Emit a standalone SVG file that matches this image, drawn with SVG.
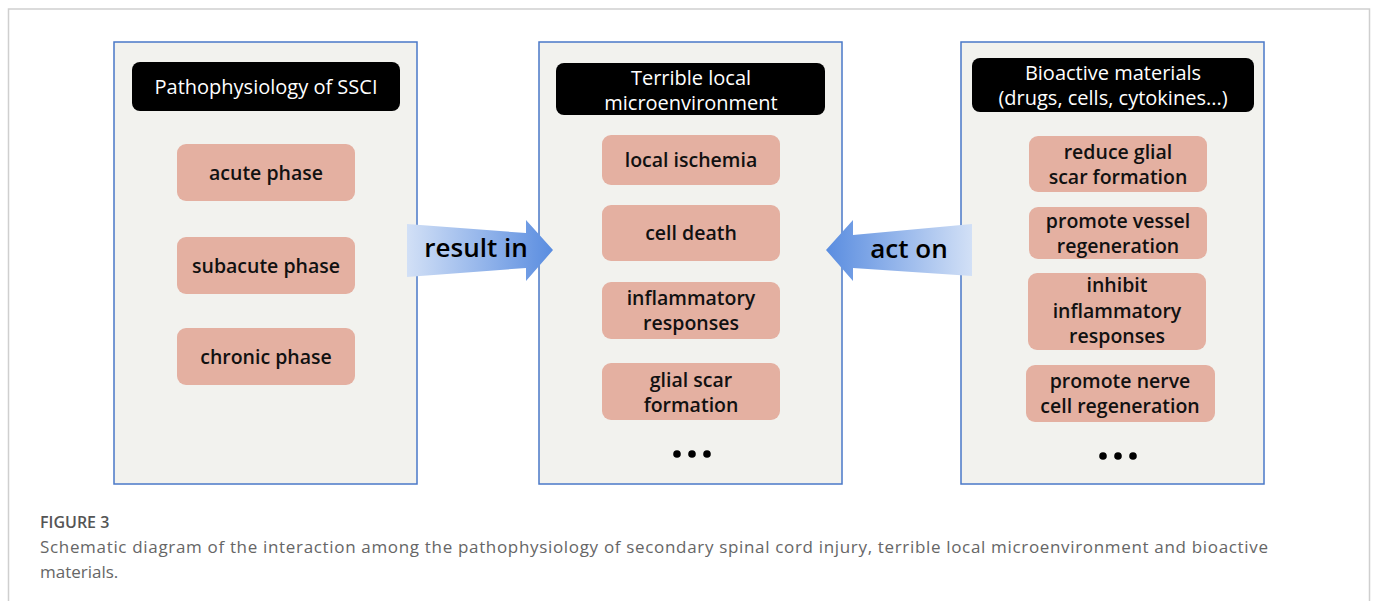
<svg xmlns="http://www.w3.org/2000/svg" width="1375" height="601" viewBox="0 0 1375 601">
<defs>
<style>
.frame{fill:#ffffff;stroke:#cfcfcf;stroke-width:1.5}
.panel{fill:#f2f2ee;stroke:#4a78c8;stroke-width:1.5}
.hdr{fill:#000000}
.box{fill:#e4b0a1}
.ht{font-family:"Open Sans","Noto Sans",sans-serif;font-size:20px;fill:#ffffff;text-anchor:middle}
.bt{font-family:"Open Sans","Noto Sans",sans-serif;font-size:19.5px;fill:#111111;text-anchor:middle;font-weight:600}
.at{font-family:"Open Sans","Noto Sans",sans-serif;font-size:26px;fill:#000000;text-anchor:middle;font-weight:600}
.cap1{font-family:"Open Sans",sans-serif;font-size:16px;fill:#555555;font-weight:600}
.cap2{font-family:"Open Sans",sans-serif;font-size:17px;fill:#666666;font-weight:400}
.dot{fill:#000000}
</style>
<linearGradient id="gR" x1="0" y1="0" x2="1" y2="0">
<stop offset="0" stop-color="#d2e0f6"/>
<stop offset="1" stop-color="#5a8de0"/>
</linearGradient>
<linearGradient id="gL" x1="1" y1="0" x2="0" y2="0">
<stop offset="0" stop-color="#d2e0f6"/>
<stop offset="1" stop-color="#5a8de0"/>
</linearGradient>
</defs>
<rect x="0" y="0" width="1375" height="601" fill="#ffffff"/>
<rect class="frame" x="8.5" y="9" width="1361" height="610"/>

<g id="panel-left">
<rect class="panel" x="114" y="42" width="303" height="442"/>
<rect class="hdr" x="132" y="62" width="268" height="49" rx="8"/>
<text class="ht" x="266" y="94">Pathophysiology of SSCI</text>
</g>
<g id="acute"><rect class="box" x="177" y="144" width="178" height="57" rx="9"/><text class="bt" x="266" y="180">acute phase</text></g>
<g id="subacute"><rect class="box" x="177" y="237" width="178" height="57" rx="9"/><text class="bt" x="266" y="273">subacute phase</text></g>
<g id="chronic"><rect class="box" x="177" y="328" width="178" height="57" rx="9"/><text class="bt" x="266" y="364">chronic phase</text></g>

<g id="panel-middle">
<rect class="panel" x="539" y="42" width="303" height="442"/>
<rect class="hdr" x="556" y="63" width="269" height="52" rx="8"/>
<text class="ht" x="691" y="85">Terrible local</text>
<text class="ht" x="691" y="110">microenvironment</text>
</g>
<g id="ischemia"><rect class="box" x="602" y="135" width="178" height="50" rx="9"/><text class="bt" x="691" y="167">local ischemia</text></g>
<g id="celldeath"><rect class="box" x="602" y="205" width="178" height="56" rx="9"/><text class="bt" x="691" y="240">cell death</text></g>
<g id="inflammatory"><rect class="box" x="602" y="282" width="178" height="57" rx="9"/><text class="bt" x="691" y="305">inflammatory</text><text class="bt" x="691" y="330">responses</text></g>
<g id="glialscar"><rect class="box" x="602" y="363" width="178" height="57" rx="9"/><text class="bt" x="691" y="387">glial scar</text><text class="bt" x="691" y="412">formation</text></g>
<g id="dots-middle"><circle class="dot" cx="677" cy="454" r="3.8"/><circle class="dot" cx="692" cy="454" r="3.8"/><circle class="dot" cx="707" cy="454" r="3.8"/></g>

<g id="panel-right">
<rect class="panel" x="961" y="42" width="303" height="442"/>
<rect class="hdr" x="972" y="58" width="282" height="54" rx="8"/>
<text class="ht" x="1113" y="80">Bioactive materials</text>
<text class="ht" x="1113" y="105">(drugs, cells, cytokines...)</text>
</g>
<g id="reduce"><rect class="box" x="1029" y="136" width="178" height="56" rx="9"/><text class="bt" x="1118" y="159">reduce glial</text><text class="bt" x="1118" y="184">scar formation</text></g>
<g id="vessel"><rect class="box" x="1029" y="207" width="178" height="52" rx="9"/><text class="bt" x="1118" y="228">promote vessel</text><text class="bt" x="1118" y="253">regeneration</text></g>
<g id="inhibit"><rect class="box" x="1028" y="273" width="178" height="77" rx="9"/><text class="bt" x="1117" y="292">inhibit</text><text class="bt" x="1117" y="318">inflammatory</text><text class="bt" x="1117" y="343">responses</text></g>
<g id="nerve"><rect class="box" x="1026" y="365" width="189" height="57" rx="9"/><text class="bt" x="1120" y="388">promote nerve</text><text class="bt" x="1120" y="413">cell regeneration</text></g>
<g id="dots-right"><circle class="dot" cx="1103" cy="456" r="3.8"/><circle class="dot" cx="1118" cy="456" r="3.8"/><circle class="dot" cx="1133" cy="456" r="3.8"/></g>

<g id="connectors">
<path d="M407,224 L526,233 L526,220 L553,250 L526,281 L526,268 L407,277 Z" fill="url(#gR)"/>
<text class="at" x="476" y="257">result in</text>
<path d="M972,224 L853,235 L853,220 L826,250 L853,281 L853,268 L972,276 Z" fill="url(#gL)"/>
<text class="at" x="909" y="258">act on</text>
</g>

<g id="caption">
<text class="cap1" x="40" y="528">FIGURE 3</text>
<text class="cap2" x="40" y="553" textLength="1228" lengthAdjust="spacing">Schematic diagram of the interaction among the pathophysiology of secondary spinal cord injury, terrible local microenvironment and bioactive</text>
<text class="cap2" x="40" y="578">materials.</text>
</g>
</svg>
